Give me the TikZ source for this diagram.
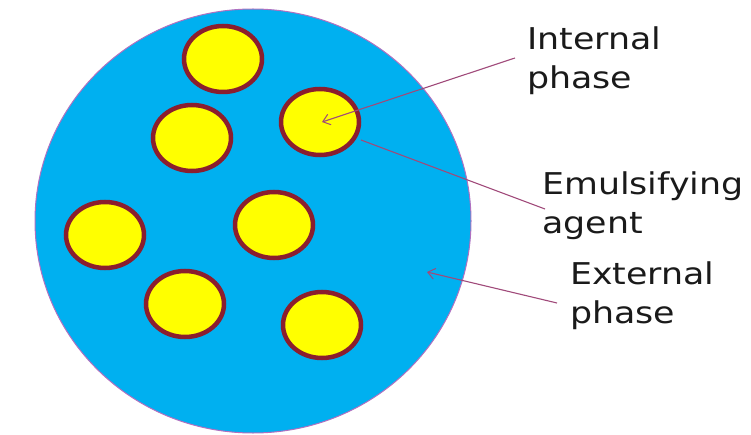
\documentclass[tikz,border=0pt]{standalone}
\usepackage{fontspec}
\setmainfont{DejaVu Sans}
\usetikzlibrary{arrows.meta}
\definecolor{bgblue}{HTML}{00B0F0}
\definecolor{dropyel}{HTML}{FFFF00}
\definecolor{dropring}{HTML}{8B1E2E}
\definecolor{rimcol}{HTML}{B070C0}
\definecolor{leadcol}{HTML}{A04A7A}
\definecolor{txtcol}{HTML}{1A1A1A}
\tikzset{
  droplet/.style={fill=dropyel,draw=dropring,line width=4.5pt},
  lbl/.style={anchor=north west,inner sep=0pt,align=left,text=txtcol,
    font=\fontsize{30}{39}\selectfont,xscale=1.16},
  leader/.style={draw=leadcol,line width=1.1pt},
  arrowlead/.style={leader,-{Straight Barb[length=7pt,width=11pt,line width=1pt]}}
}
\begin{document}
\begin{tikzpicture}[x=1pt,y=1pt]
\useasboundingbox (0,0) rectangle (751,434);
% continuous phase
\fill[bgblue,draw=rimcol,line width=1pt] (253,213) ellipse [x radius=218, y radius=212];
% droplets (image y flipped: 434 - y)
\path[droplet] (223,375) ellipse [x radius=39, y radius=33];
\path[droplet] (192,296) ellipse [x radius=39, y radius=33];
\path[droplet] (320,312) ellipse [x radius=39, y radius=33];
\path[droplet] (105,199) ellipse [x radius=39, y radius=33];
\path[droplet] (274,209) ellipse [x radius=39, y radius=33];
\path[droplet] (185,130) ellipse [x radius=39, y radius=33];
\path[droplet] (322,109) ellipse [x radius=39, y radius=33];
% labels
\node[lbl] (internal) at (527,407) {Internal\\phase};
\node[lbl] (emuls) at (542,262) {Emulsifying\\agent};
\node[lbl] (external) at (570,172) {External\\phase};
% connector ends
\coordinate (intstart) at (515,376);
\coordinate (inttip) at (322,312);
\coordinate (emstart) at (545,225);
\coordinate (emend) at (361,294);
\coordinate (extstart) at (557,131);
\coordinate (exttip) at (427,162);
\draw[arrowlead] (intstart) -- (inttip);
\draw[leader] (emstart) -- (emend);
\draw[arrowlead] (extstart) -- (exttip);
\end{tikzpicture}
\end{document}
